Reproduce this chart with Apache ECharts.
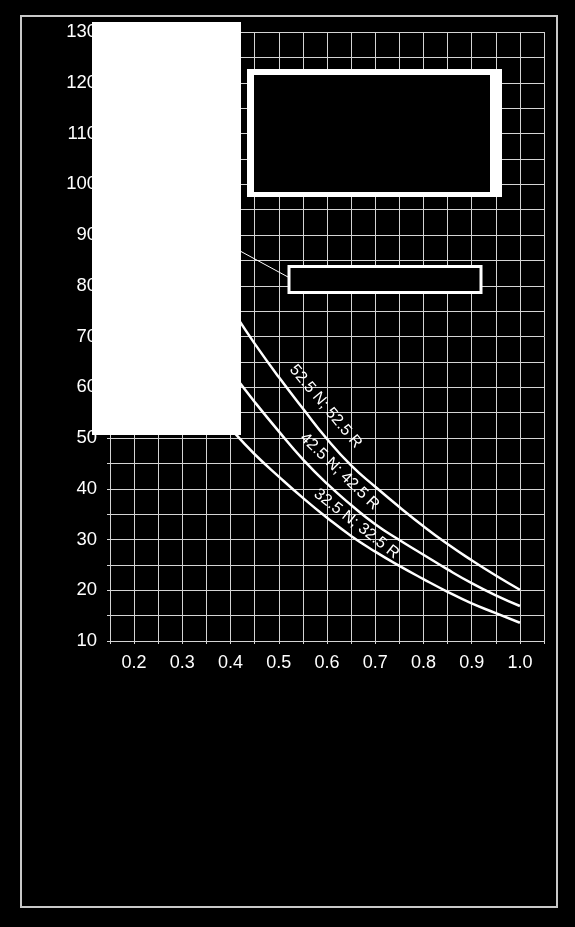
<!DOCTYPE html>
<html>
<head>
<meta charset="utf-8">
<script src="https://cdn.jsdelivr.net/npm/echarts@6/dist/echarts.min.js"></script>
<style>
  html, body { margin: 0; padding: 0; background: #000; }
  #chart { width: 575px; height: 927px; }
</style>
</head>
<body>
<div id="chart"></div>
<script>
// w/c ratio (x) and strength values
var ratios = [0.41, 0.45, 0.5, 0.55, 0.6, 0.65, 0.7, 0.75, 0.8, 0.85, 0.9, 0.95, 1.0];
var cem525 = [74.3, 68.6, 62.0, 55.8, 49.8, 44.6, 40.4, 36.4, 32.6, 29.1, 25.9, 22.9, 20.1];
var cem425 = [62.0, 57.1, 51.3, 45.8, 41.0, 36.8, 33.0, 29.9, 27.0, 24.1, 21.4, 19.0, 16.9];
var cem325 = [50.8, 46.8, 42.4, 38.2, 34.3, 30.7, 27.6, 24.8, 22.2, 19.7, 17.4, 15.5, 13.6];
var seriesNames = ['52.5 N; 52.5 R', '42.5 N; 42.5 R', '32.5 N; 32.5 R'];
// where each curve name sits (data coords) and its slant in degrees
var labelAt = [[0.597, 56.2, 50], [0.626, 43.4, 44], [0.661, 33.1, 38]];

var xTickLabels = ['0.2', '0.3', '0.4', '0.5', '0.6', '0.7', '0.8', '0.9', '1.0'];
var yTickLabels = ['10', '20', '30', '40', '50', '60', '70', '80', '90', '100', '110', '120', '130'];

var FONT = "'Liberation Sans', Arial, sans-serif";
var chart = echarts.init(document.getElementById('chart'));

function pairs(ys) {
    return ratios.map(function (x, i) { return [x, ys[i]]; });
}

var option = {
    backgroundColor: '#000',
    animation: false,
    grid: { left: 110, right: 31, top: 32, bottom: 286 },
    xAxis: {
        type: 'value', min: 0.15, max: 1.05, interval: 0.05,
        axisLine: { lineStyle: { color: '#d4d4d4', width: 1 } },
        axisTick: { length: 3, lineStyle: { color: '#d4d4d4' } },
        splitLine: { show: true, lineStyle: { color: '#d4d4d4', width: 1 } },
        axisLabel: {
            color: '#fff', fontSize: 18, fontFamily: FONT, margin: 13,
            showMinLabel: true, showMaxLabel: true,
            formatter: function (v) {
                var s = (Math.round(v * 100) / 100).toFixed(2);
                var t = (Math.round(v * 10) / 10).toFixed(1);
                return (s.charAt(s.length - 1) === '0' && xTickLabels.indexOf(t) >= 0) ? t : '';
            }
        }
    },
    yAxis: {
        type: 'value', min: 10, max: 130, interval: 5,
        axisLine: { lineStyle: { color: '#d4d4d4', width: 1 } },
        axisTick: { length: 3, lineStyle: { color: '#d4d4d4' } },
        splitLine: { show: true, lineStyle: { color: '#d4d4d4', width: 1 } },
        axisLabel: {
            color: '#fff', fontSize: 18.5, fontFamily: FONT, margin: 13,
            formatter: function (v) {
                var t = String(Math.round(v));
                return (Math.round(v) % 10 === 0 && yTickLabels.indexOf(t) >= 0) ? t : '';
            }
        }
    },
    series: [cem525, cem425, cem325].map(function (ys, i) {
        return {
            name: seriesNames[i], type: 'line', smooth: 0.5,
            showSymbol: false,
            lineStyle: { color: '#fff', width: 2.5 },
            data: pairs(ys), z: 3
        };
    }),
    graphic: []
};
chart.setOption(option);

// overlays: outer frame, blanked panels and the leader line
var gfx = [
    { type: 'rect', z: 100, shape: { x: 21, y: 16, width: 536, height: 891 },
      style: { fill: 'none', stroke: '#c8c8c8', lineWidth: 2 } },
    { type: 'rect', z: 100, shape: { x: 92, y: 22, width: 149, height: 413 },
      style: { fill: '#fff' } },
    { type: 'rect', z: 100, shape: { x: 247, y: 69, width: 255, height: 128 },
      style: { fill: '#fff' } },
    { type: 'rect', z: 101, shape: { x: 254, y: 75, width: 236, height: 117 },
      style: { fill: '#000' } },
    { type: 'line', z: 100, shape: { x1: 241, y1: 251.5, x2: 288, y2: 277 },
      style: { stroke: '#fff', lineWidth: 1 } },
    { type: 'rect', z: 100, shape: { x: 289, y: 266.5, width: 192, height: 26 },
      style: { fill: '#000', stroke: '#fff', lineWidth: 3 } }
];

labelAt.forEach(function (p, i) {
    var px = chart.convertToPixel({ gridIndex: 0 }, [p[0], p[1]]);
    gfx.push({
        type: 'text', z: 50, x: px[0], y: px[1],
        rotation: -p[2] * Math.PI / 180,
        style: {
            text: seriesNames[i], fill: '#fff', fontSize: 16, fontFamily: FONT,
            align: 'center', verticalAlign: 'middle'
        }
    });
});

chart.setOption({ graphic: gfx });
</script>
</body>
</html>
